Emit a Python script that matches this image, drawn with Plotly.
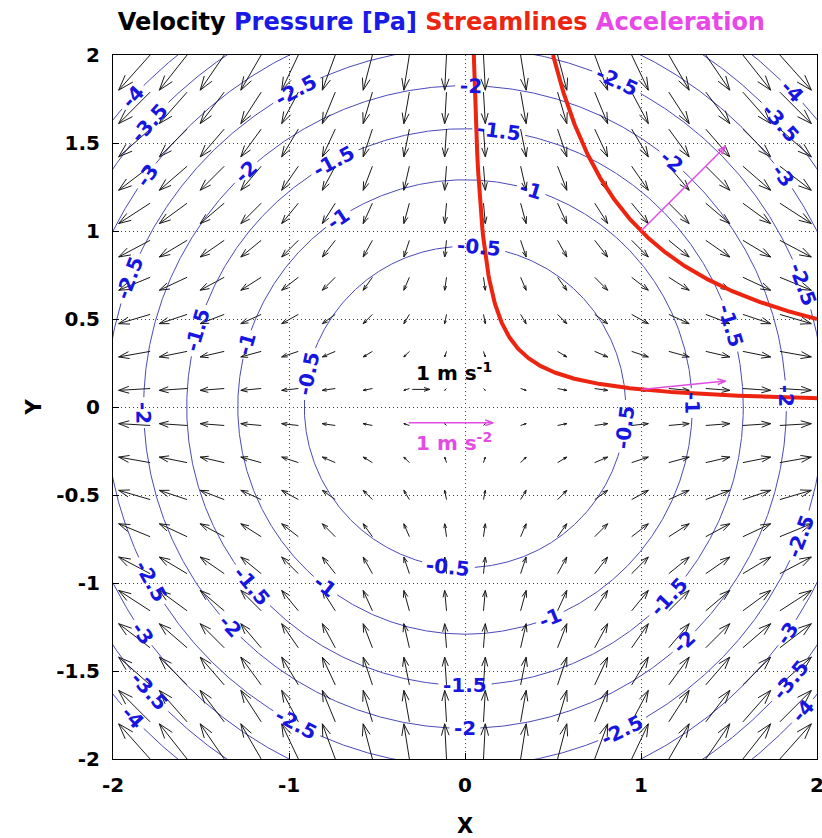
import numpy as np
import plotly.graph_objects as go

# ---------------- data ----------------
# quiver grid (20 points from -2 to 2 in each direction)
grid_x = [-2.0, -1.789, -1.579, -1.368, -1.158, -0.947, -0.737, -0.526, -0.316, -0.105,
          0.105, 0.316, 0.526, 0.737, 0.947, 1.158, 1.368, 1.579, 1.789, 2.0]
grid_y = [-2.0, -1.789, -1.579, -1.368, -1.158, -0.947, -0.737, -0.526, -0.316, -0.105,
          0.105, 0.316, 0.526, 0.737, 0.947, 1.158, 1.368, 1.579, 1.789, 2.0]
# stagnation-point flow: u depends on the column, v on the row [m/s]
u_by_column = [-2.0, -1.789, -1.579, -1.368, -1.158, -0.947, -0.737, -0.526, -0.316, -0.105,
               0.105, 0.316, 0.526, 0.737, 0.947, 1.158, 1.368, 1.579, 1.789, 2.0]
v_by_row = [2.0, 1.789, 1.579, 1.368, 1.158, 0.947, 0.737, 0.526, 0.316, 0.105,
            -0.105, -0.316, -0.526, -0.737, -0.947, -1.158, -1.368, -1.579, -1.789, -2.0]
air_density = 1.2  # kg/m^3, pressure p = -rho/2 |V|^2 (isobars are circles)
pressure_levels = [-0.5, -1.0, -1.5, -2.0, -2.5, -3.0, -3.5, -4.0]
# polar angle (deg) of each inline contour label, per level
label_angles = [
    [85, 168, 264, 353],
    [73, 124, 164, 232, 292, 1],
    [83, 118, 164, 220, 270, 317, 17],
    [89, 133, 181, 223, 270, 313, 2, 50],
    [118, 159, 209, 242, 296, 339, 20, 65],
    [144, 215, 325, 36],
    [138, 222, 320, 42],
    [137, 223, 318, 44],
]
streamline_constants = [0.1, 1.0]          # psi = x*y
accel_points_x = [1.0, 1.0]
accel_points_y = [1.0, 0.1]
accel_x = [1.0, 1.0]                        # m/s^2
accel_y = [1.0, 0.1]
x_ticks = [-2, -1, 0, 1, 2]
x_ticklabels = ["-2", "-1", "0", "1", "2"]
y_ticks = [-2, -1.5, -1, -0.5, 0, 0.5, 1, 1.5, 2]
y_ticklabels = ["-2", "-1.5", "-1", "-0.5", "0", "0.5", "1", "1.5", "2"]
ref_velocity = 1.0       # m/s
ref_accel = 1.0          # m/s^2

# ---------------- style constants ----------------
VEL_SCALE = 0.1
ACC_SCALE = 0.48
PX_PER_UNIT = 176.0
FONT = "DejaVu Sans"
CONTOUR_LINE = "#4a4ab8"
LABEL_BLUE = "#1616e0"
RED = "#ec2410"
MAGENTA = "#e24ce2"


def arrow(xs, ys, x0, y0, dx, dy, alpha=0.33, beta=0.33):
    tx, ty = x0 + dx, y0 + dy
    xs += [x0, tx, None,
           tx - alpha * (dx + beta * dy), tx, tx - alpha * (dx - beta * dy), None]
    ys += [y0, ty, None,
           ty - alpha * (dy - beta * dx), ty, ty - alpha * (dy + beta * dx), None]


def small_head_arrow(xs, ys, x0, y0, dx, dy, head=0.045):
    tx, ty = x0 + dx, y0 + dy
    L = (dx * dx + dy * dy) ** 0.5
    ux, uy = dx / L, dy / L
    xs += [x0, tx, None,
           tx - head * ux - 0.35 * head * uy, tx, tx - head * ux + 0.35 * head * uy, None]
    ys += [y0, ty, None,
           ty - head * uy + 0.35 * head * ux, ty, ty - head * uy - 0.35 * head * ux, None]


fig = go.Figure()

# pressure isobars with inline label gaps
label_annotations = []
for level, angles in zip(pressure_levels, label_angles):
    r = (-2.0 * level / air_density) ** 0.5
    text = f"{level:g}"
    half_gap = np.degrees((len(text) * 11.5 / 2 + 3) / (r * PX_PER_UNIT))
    cx, cy = [], []
    prev_in = False
    for th in np.arange(0, 360.25, 0.25):
        d = min(abs(((th - a) + 180) % 360 - 180) for a in angles)
        if d < half_gap:
            if prev_in:
                cx.append(None)
                cy.append(None)
            prev_in = False
            continue
        cx.append(r * np.cos(np.radians(th)))
        cy.append(r * np.sin(np.radians(th)))
        prev_in = True
    fig.add_trace(go.Scatter(x=cx, y=cy, mode="lines",
                             line=dict(color=CONTOUR_LINE, width=1), hoverinfo="skip"))
    for a in angles:
        phi = (a - 90 + 90) % 180 - 90
        label_annotations.append(dict(
            x=r * np.cos(np.radians(a)), y=r * np.sin(np.radians(a)),
            text=f"<b>{text}</b>", showarrow=False, textangle=-phi,
            font=dict(family=FONT, size=20, color=LABEL_BLUE)))

# velocity arrows
vx, vy = [], []
for j, y0 in enumerate(grid_y):
    v = v_by_row[j]
    for i, x0 in enumerate(grid_x):
        u = u_by_column[i]
        arrow(vx, vy, x0, y0, VEL_SCALE * u, VEL_SCALE * v)
# reference velocity arrow
arrow(vx, vy, -0.3, 0.1, VEL_SCALE * ref_velocity, 0.0)
fig.add_trace(go.Scatter(x=vx, y=vy, mode="lines",
                         line=dict(color="#1a1a1a", width=1), hoverinfo="skip"))

# streamlines
for c in streamline_constants:
    sx = np.linspace(c / 2.0, 2.0, 400)
    fig.add_trace(go.Scatter(x=sx, y=c / sx, mode="lines",
                             line=dict(color=RED, width=4), hoverinfo="skip"))

# acceleration arrows
ax_, ay_ = [], []
for x0, y0, a1, a2 in zip(accel_points_x, accel_points_y, accel_x, accel_y):
    small_head_arrow(ax_, ay_, x0, y0, ACC_SCALE * a1, ACC_SCALE * a2)
small_head_arrow(ax_, ay_, -0.32, -0.09, ACC_SCALE * ref_accel, 0.0)
fig.add_trace(go.Scatter(x=ax_, y=ay_, mode="lines",
                         line=dict(color=MAGENTA, width=1.5), hoverinfo="skip"))

annotations = label_annotations + [
    dict(x=-0.06, y=0.2, text="<b>1 m s<sup>-1</sup></b>", showarrow=False,
         font=dict(family=FONT, size=20, color="black")),
    dict(x=-0.06, y=-0.2, text="<b>1 m s<sup>-2</sup></b>", showarrow=False,
         font=dict(family=FONT, size=20, color=MAGENTA)),
]

title = ("<b>Velocity <span style='color:#1a1ae6'>Pressure [Pa]</span> "
         "<span style='color:#ec2410'>Streamlines</span> "
         "<span style='color:#e848e8'>Acceleration</span></b>")

axis_common = dict(showline=True, linecolor="black", linewidth=1, mirror=True,
                   ticks="inside", ticklen=6, tickcolor="black",
                   showgrid=True, gridcolor="#444444", griddash="1px,3px", gridwidth=1,
                   zeroline=False, automargin=False, ticklabelstandoff=8,
                   ticklabeloverflow="allow",
                   tickfont=dict(family=FONT, size=20, color="black", weight="bold"))

fig.update_layout(
    width=822, height=838,
    margin=dict(l=113, r=5, t=55, b=79),
    paper_bgcolor="white", plot_bgcolor="white",
    showlegend=False,
    annotations=annotations,
    title=dict(text=title, x=0.537, xref="container", xanchor="center",
               y=0.974, yref="container", yanchor="middle",
               font=dict(family=FONT, size=24, color="black")),
    xaxis=dict(range=[-2, 2], tickvals=x_ticks, ticktext=x_ticklabels,
               title=dict(text="<b>X</b>", standoff=22,
                          font=dict(family=FONT, size=21, color="black")),
               **axis_common),
    yaxis=dict(range=[-2, 2], tickvals=y_ticks, ticktext=y_ticklabels,
               title=dict(text="<b>Y</b>", standoff=8,
                          font=dict(family=FONT, size=21, color="black")),
               **axis_common),
)

fig.write_html("out.html", config={"displayModeBar": False},
               post_script="document.body.style.margin='0';document.body.style.overflow='hidden';")
